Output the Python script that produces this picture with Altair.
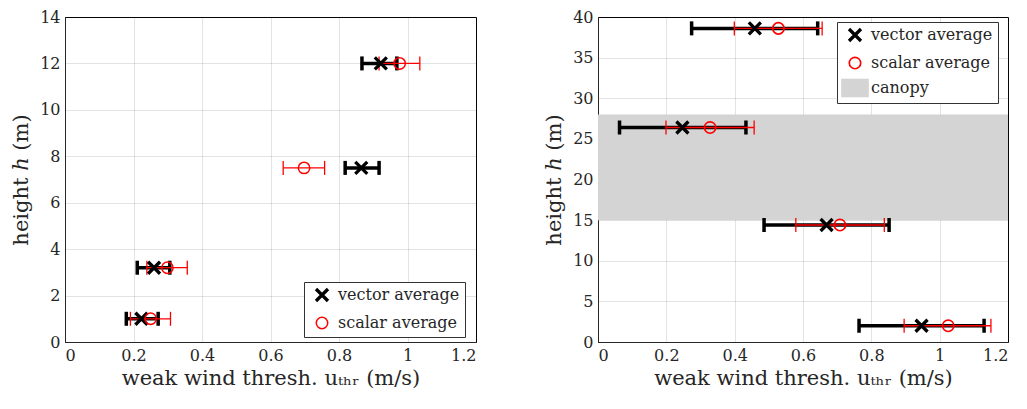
import altair as alt
import pandas as pd

# ---------------- data ----------------
# left panel
heights_a = [12, 7.5, 3.2, 1]
vec_a = [0.922, 0.865, 0.260, 0.223]
vec_a_lo = [0.867, 0.818, 0.211, 0.179]
vec_a_hi = [0.969, 0.917, 0.306, 0.272]
sca_a = [0.977, 0.698, 0.299, 0.250]
sca_a_lo = [0.917, 0.637, 0.239, 0.191]
sca_a_hi = [1.036, 0.758, 0.357, 0.308]

# right panel
heights_b = [38.6, 26.4, 14.4, 2]
vec_b = [0.459, 0.247, 0.669, 0.947]
vec_b_lo = [0.274, 0.063, 0.486, 0.764]
vec_b_hi = [0.643, 0.433, 0.852, 1.130]
sca_b = [0.528, 0.328, 0.708, 1.025]
sca_b_lo = [0.399, 0.199, 0.579, 0.896]
sca_b_hi = [0.656, 0.457, 0.838, 1.150]

canopy_bottom = [15]
canopy_top = [28]
canopy_x0 = [0]
canopy_x1 = [1.2]

series_names = ["vector average", "scalar average", "canopy"]
x_ticks = [0, 0.2, 0.4, 0.6, 0.8, 1.0, 1.2]
y_ticks_a = list(range(0, 15, 2))
y_ticks_b = list(range(0, 41, 5))

X_TITLE = "weak wind thresh. uₜₕᵣ (m/s)"
Y_TITLE = "height ℎ (m)"

FONT = "DejaVu Serif"
X_PATH = "M-1,-1L1,1M-1,1L1,-1"
CIRCLE_PATH = "M0.95,0A0.95,0.95,0,1,1,-0.95,0A0.95,0.95,0,1,1,0.95,0Z"
RECT_PATH = "M-2.3,-1.55H2.3V1.55H-2.3Z"


def panel(h, vec, vlo, vhi, sca, slo, shi, ymax, yticks, canopy, lx, ly, w, hgt):
    dv = pd.DataFrame({"h": h, "x": vec, "lo": vlo, "hi": vhi, "series": "vector average"})
    ds = pd.DataFrame({"h": h, "x": sca, "lo": slo, "hi": shi, "series": "scalar average"})
    dpts = pd.concat([dv, ds], ignore_index=True)

    xs = alt.Scale(domain=[0, 1.2], nice=False, zero=False)
    ys = alt.Scale(domain=[0, ymax], nice=False, zero=False)
    xax = alt.Axis(values=x_ticks, format="~g", title=X_TITLE, titlePadding=4)
    yax = alt.Axis(values=yticks, format="d", title=Y_TITLE, titlePadding=8)

    def X(f):
        return alt.X(f, type="quantitative", scale=xs, axis=xax)

    def Y(f):
        return alt.Y(f, type="quantitative", scale=ys, axis=yax)

    layers = []
    if canopy:
        dc = pd.DataFrame({"b": canopy_bottom, "t": canopy_top, "x0": canopy_x0, "x1": canopy_x1})
        layers.append(
            alt.Chart(dc).mark_rect(color="#d4d4d4").encode(
                x=X("x0"), x2="x1", y=Y("b"), y2="t"
            )
        )

    for d, col, sw in [(dv, "black", 3.5), (ds, "red", 1.3)]:
        layers.append(
            alt.Chart(d).mark_rule(color=col, strokeWidth=sw).encode(x=X("lo"), x2="hi", y=Y("h"))
        )
        layers.append(
            alt.Chart(d)
            .transform_fold(["lo", "hi"], as_=["end", "xe"])
            .mark_tick(orient="vertical", color=col, thickness=sw, size=14, opacity=1)
            .encode(x=X("xe"), y=Y("h"))
        )

    dom = series_names if canopy else series_names[:2]
    shapes = [X_PATH, CIRCLE_PATH, RECT_PATH][: len(dom)]
    strokes = ["black", "red", "#d4d4d4"][: len(dom)]
    fills = ["transparent", "transparent", "#d4d4d4"][: len(dom)]
    widths = [3.3, 0.0] if canopy else [3.3, 1.5]
    leg = alt.Legend(
        title=None,
        orient="none",
        legendX=lx,
        legendY=ly,
        strokeColor="#333333",
        fillColor="white",
        padding=5,
        labelFont=FONT,
        labelFontSize=16,
        labelColor="#262626",
        rowPadding=6,
        symbolSize=144,
        symbolOffset=5,
        labelOffset=8,
        labelLimit=300,
    )
    layers.append(
        alt.Chart(dpts)
        .mark_point(filled=False, size=144, opacity=1)
        .encode(
            x=X("x"),
            y=Y("h"),
            shape=alt.Shape("series:N", scale=alt.Scale(domain=dom, range=shapes), legend=leg),
            stroke=alt.Stroke("series:N", scale=alt.Scale(domain=dom, range=strokes), legend=leg),
            fill=alt.Fill("series:N", scale=alt.Scale(domain=dom, range=fills), legend=leg),
            strokeWidth=alt.StrokeWidth(
                "series:N", scale=alt.Scale(domain=dom, range=widths, padding=0), legend=leg
            ),
        )
    )
    return alt.layer(*layers).properties(width=w, height=hgt)


left = panel(heights_a, vec_a, vec_a_lo, vec_a_hi, sca_a, sca_a_lo, sca_a_hi, 14, y_ticks_a, False, 239, 265, 411, 325)
right = panel(heights_b, vec_b, vec_b_lo, vec_b_hi, sca_b, sca_b_lo, sca_b_hi, 40, y_ticks_b, True, 239, 5, 410, 325)

chart = (
    alt.hconcat(left, right, spacing=66)
    .resolve_scale(shape="independent", stroke="independent", fill="independent", strokeWidth="independent")
    .resolve_legend(shape="independent", stroke="independent", fill="independent", strokeWidth="independent")
    .properties(background="white", padding={"left": 2, "top": 0, "right": 0, "bottom": 0})
    .configure_view(stroke="black", strokeWidth=1)
    .configure_axis(
        labelFont=FONT,
        titleFont=FONT,
        labelFontSize=16,
        titleFontSize=21,
        titleFontWeight="normal",
        labelColor="#262626",
        titleColor="#262626",
        domainColor="#262626",
        gridColor="#262626",
        gridOpacity=0.13,
        ticks=False,
        labelPadding=5,
        zindex=1,
    )
)

chart.save("out.html", embed_options={"renderer": "svg", "actions": False})
